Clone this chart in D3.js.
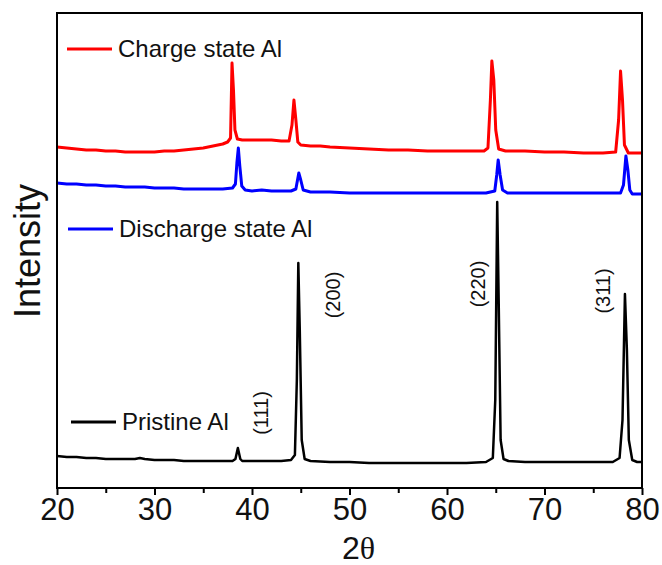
<!DOCTYPE html>
<html><head><meta charset="utf-8">
<script src="https://cdn.jsdelivr.net/npm/d3@7"></script>
<style>body{margin:0;background:#fff}svg{display:block}text{font-family:"Liberation Sans",Arial,sans-serif}</style>
</head><body><svg id="c" width="662" height="565"></svg>
<script>
// 2θ (deg) and intensity (a.u., offset stacked)
const pristineX = [20,21,22,23,24,25,26,27,28,28.5,29,30,31,32,33,34,35,36,37,38,38.3,38.55,38.8,39,40,41,42,43,44,44.4,44.6,44.75,44.9,45.1,45.4,46,48,50,52,55,58,60,62,64,64.7,64.95,65.15,65.3,65.5,65.8,66.3,68,70,72,75,77,77.7,78.0,78.25,78.45,78.65,79,79.5,80];
const pristineY = [32,31,31,30,30,29,29,29,29,30,29,28,28,28,27,27,27,27,27,27,29,40,29,27,27,27,27,27,28,33,108,225,158,48,29,27,26,26,25,25,25,25,25,26,30,88,286,188,48,29,27,26,26,26,26,26,30,68,194,138,48,28,26,26];

const dischargeX = [20,21,22,23,24,25,26,27,28,29,30,31,32,33,34,35,36,37,38,38.3,38.45,38.6,38.75,38.95,39.3,40,41,42,43,44,44.5,44.8,45.0,45.25,46,48,50,55,60,64,64.9,65.1,65.25,65.45,65.7,66.2,70,75,77.8,78.1,78.35,78.55,78.75,79,80];
const dischargeY = [305,304,304,303,303,302,302,301,301,301,300,300,300,299,299,299,299,299,300,304,325,340,322,302,298,297,298,297,297,297,299,315,308,298,296,296,295,295,295,295,297,313,328,313,298,295,295,295,295,303,332,318,298,294,294];

const chargeX = [20,21,22,23,24,25,26,27,28,29,30,31,32,33,34,35,36,37,37.5,37.8,37.95,38.1,38.25,38.5,39,40,41,42,43,43.8,44.1,44.3,44.5,44.7,45,46,47,48,50,52,54,56,58,60,62,63.8,64.2,64.45,64.6,64.8,65.0,65.3,66,68,70,72,74,76,77.3,77.6,77.8,78.0,78.2,78.6,80];
const chargeY = [341,340,339,338,338,337,337,336,336,336,336,337,337,338,339,340,342,344,346,350,425,398,358,349,348,348,348,348,347,347,363,388,368,346,343,342,342,341,340,339,338,338,337,337,337,337,340,388,427,408,358,339,337,337,336,336,335,335,336,368,417,388,343,335,335];

const seriesNames = ["Charge state Al","Discharge state Al","Pristine Al"];
const seriesColors = ["#ff0000","#0000ff","#000000"];
const xTicks = [20,30,40,50,60,70,80];
const peakLabels = ["(111)","(200)","(220)","(311)"];
const peakLabelPos = [[40.9,75],[48.3,193],[63.15,204],[76.0,197]];

const W=662,H=565,m={l:57,t:13,r:20,b:77};
const svg=d3.select("#c");
const x=d3.scaleLinear().domain([20,80]).range([m.l,W-m.r]);
const y=d3.scaleLinear().domain([0,475]).range([H-m.b,m.t]);

const series=[
 {x:chargeX,y:chargeY,w:3},
 {x:dischargeX,y:dischargeY,w:3},
 {x:pristineX,y:pristineY,w:2.5}
];
const line=d3.line().x(d=>x(d[0])).y(d=>y(d[1]));
series.forEach((s,i)=>{
  svg.append("path").datum(s.x.map((v,j)=>[v,s.y[j]]))
    .attr("d",line).attr("fill","none").attr("stroke",seriesColors[i])
    .attr("stroke-width",s.w).attr("stroke-linejoin","round");
});

// frame
svg.append("rect").attr("x",x(20)).attr("y",y(475)).attr("width",x(80)-x(20)).attr("height",y(0)-y(475))
  .attr("fill","none").attr("stroke","#000").attr("stroke-width",2);

// x axis
const ax=svg.append("g").attr("transform",`translate(0,${y(0)})`)
  .call(d3.axisBottom(x).tickValues(xTicks).tickSize(7).tickFormat(d3.format("d")));
ax.select(".domain").remove();
ax.selectAll(".tick line").attr("stroke-width",2);
ax.selectAll(".tick text").attr("font-size",31).attr("dy","0.71em").attr("y",10).attr("fill","#111")
  .style("font-family","'Liberation Sans',Arial,sans-serif");
const minor=svg.append("g").attr("transform",`translate(0,${y(0)})`)
  .call(d3.axisBottom(x).tickValues([25,35,45,55,65,75]).tickSize(5).tickFormat(""));
minor.select(".domain").remove();
minor.selectAll(".tick line").attr("stroke-width",2);

// axis titles
const xt=svg.append("text").attr("x",(x(20)+x(80))/2+9).attr("y",559).attr("text-anchor","middle").attr("font-size",32).attr("fill","#111");
xt.append("tspan").text("2");
xt.append("tspan").text("θ").style("font-family","'Liberation Serif','Times New Roman',serif");
svg.append("text").attr("transform","translate(40,251) rotate(-90)").attr("text-anchor","middle")
  .attr("font-size",36).attr("fill","#111").text("Intensity");

// legends
const legY=[49,229,422];
seriesNames.forEach((n,i)=>{
  const lx=i===0?67:(i===1?68:71);
  svg.append("line").attr("x1",lx).attr("x2",lx+45).attr("y1",legY[i]).attr("y2",legY[i])
    .attr("stroke",seriesColors[i]).attr("stroke-width",3);
  svg.append("text").attr("x",lx+51).attr("y",legY[i]+8).attr("font-size",24).attr("fill","#111").text(n);
});

// peak labels
peakLabels.forEach((t,i)=>{
  const p=peakLabelPos[i];
  svg.append("text").attr("transform",`translate(${x(p[0])},${y(p[1])}) rotate(-90)`)
    .attr("text-anchor","middle").attr("dy","0.35em").attr("font-size",20).attr("fill","#111").text(t);
});
</script></body></html>
